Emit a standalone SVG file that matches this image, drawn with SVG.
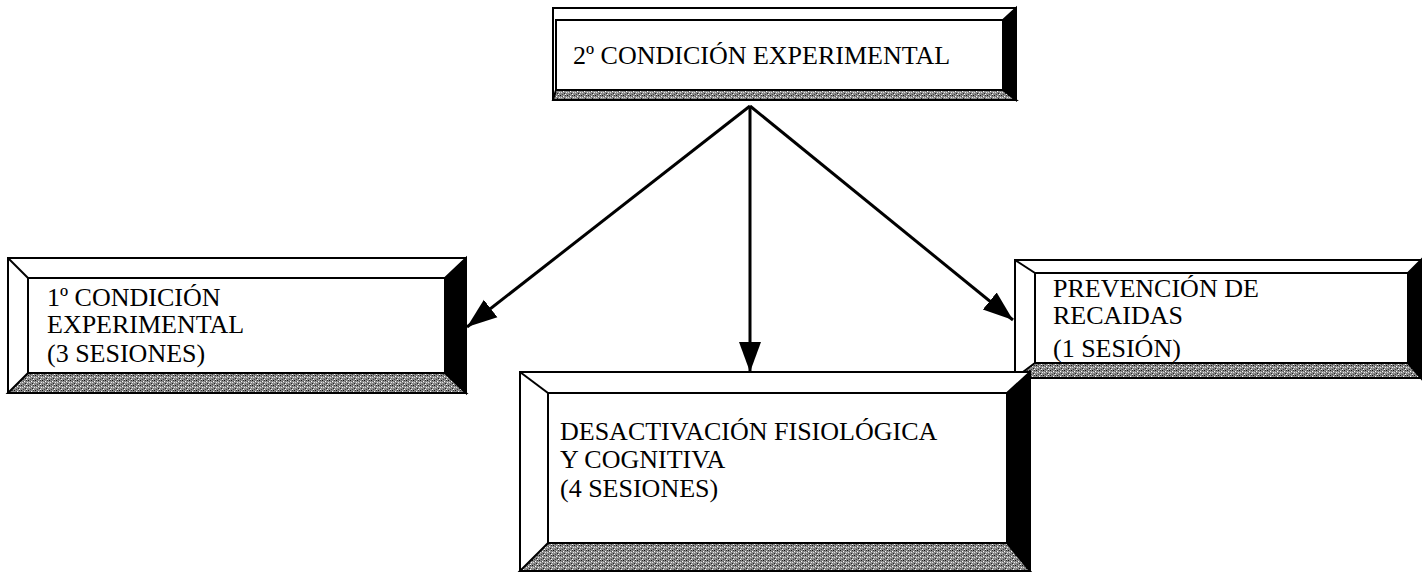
<svg xmlns="http://www.w3.org/2000/svg" width="1422" height="572" viewBox="0 0 1422 572">
<defs>
<pattern id="grain" width="7" height="5" patternUnits="userSpaceOnUse">
<rect width="7" height="5" fill="#8a8a8a"/>
<rect x="0" y="0" width="1" height="1" fill="#111"/>
<rect x="3" y="1" width="1" height="1" fill="#fff"/>
<rect x="5" y="0" width="1" height="1" fill="#333"/>
<rect x="1" y="2" width="1" height="1" fill="#ddd"/>
<rect x="4" y="3" width="1" height="1" fill="#222"/>
<rect x="6" y="2" width="1" height="1" fill="#eee"/>
<rect x="2" y="4" width="1" height="1" fill="#444"/>
<rect x="5" y="4" width="1" height="1" fill="#fff"/>
<rect x="2" y="1" width="1" height="1" fill="#555"/>
</pattern>
<marker id="arr" viewBox="0 0 30 24" refX="30" refY="12" markerWidth="30" markerHeight="24" markerUnits="userSpaceOnUse" orient="auto">
<path d="M0,1 L30,12 L0,23 z" fill="#000"/>
</marker>
</defs>
<style>
.edge{fill:#fff;stroke:#000;stroke-width:2}
.dark{fill:#000;stroke:#000;stroke-width:2}
.grain{fill:url(#grain);stroke:#000;stroke-width:2}
.inner{fill:#fff;stroke:#000;stroke-width:2}
.lbl{font-family:'Liberation Serif','DejaVu Serif','Times New Roman',serif;font-size:26px;fill:#000}
.conn{stroke:#000;stroke-width:3;fill:none}
.diag{stroke:#000;stroke-width:2}
</style>

<g id="connectors">
<line class="conn" x1="750" y1="106" x2="467" y2="327" marker-end="url(#arr)"/>
<line class="conn" x1="750" y1="106" x2="1013" y2="320" marker-end="url(#arr)"/>
<line class="conn" x1="750" y1="106" x2="750" y2="372" marker-end="url(#arr)"/>
</g>

<g id="node-top">
<rect class="edge" x="553" y="8" width="463" height="92"/>
<polygon class="dark" points="1003,20 1016,8 1016,100 1003,90"/>
<polygon class="grain" points="553,100 556,90 1003,90 1016,100"/>
<rect class="inner" x="556" y="20" width="447" height="70"/>
<text class="lbl" x="573" y="64">2º CONDICIÓN EXPERIMENTAL</text>
</g>

<g id="node-left">
<rect class="edge" x="8" y="258" width="458" height="135"/>
<line class="diag" x1="8" y1="258" x2="28" y2="278"/>
<polygon class="dark" points="445,278 466,258 466,393 445,373"/>
<polygon class="grain" points="8,393 28,373 445,373 466,393"/>
<rect class="inner" x="28" y="278" width="417" height="95"/>
<text class="lbl" x="47" y="306">1º CONDICIÓN</text>
<text class="lbl" x="47" y="333">EXPERIMENTAL</text>
<text class="lbl" x="47" y="362">(3 SESIONES)</text>
</g>

<g id="node-right">
<rect class="edge" x="1015" y="260" width="406" height="118"/>
<line class="diag" x1="1015" y1="260" x2="1035" y2="273"/>
<polygon class="dark" points="1408,273 1421,260 1421,378 1408,363"/>
<polygon class="grain" points="1015,378 1035,363 1408,363 1421,378"/>
<rect class="inner" x="1035" y="273" width="373" height="90"/>
<text class="lbl" x="1053" y="297">PREVENCIÓN DE</text>
<text class="lbl" x="1053" y="324">RECAIDAS</text>
<text class="lbl" x="1053" y="357">(1 SESIÓN)</text>
</g>

<g id="node-bottom">
<rect class="edge" x="520" y="372" width="510" height="199"/>
<line class="diag" x1="520" y1="372" x2="548" y2="393"/>
<polygon class="dark" points="1007,393 1030,372 1030,571 1007,543"/>
<polygon class="grain" points="520,571 548,543 1007,543 1030,571"/>
<rect class="inner" x="548" y="393" width="459" height="150"/>
<text class="lbl" x="560" y="440">DESACTIVACIÓN FISIOLÓGICA</text>
<text class="lbl" x="560" y="468">Y COGNITIVA</text>
<text class="lbl" x="560" y="497">(4 SESIONES)</text>
</g>
</svg>
